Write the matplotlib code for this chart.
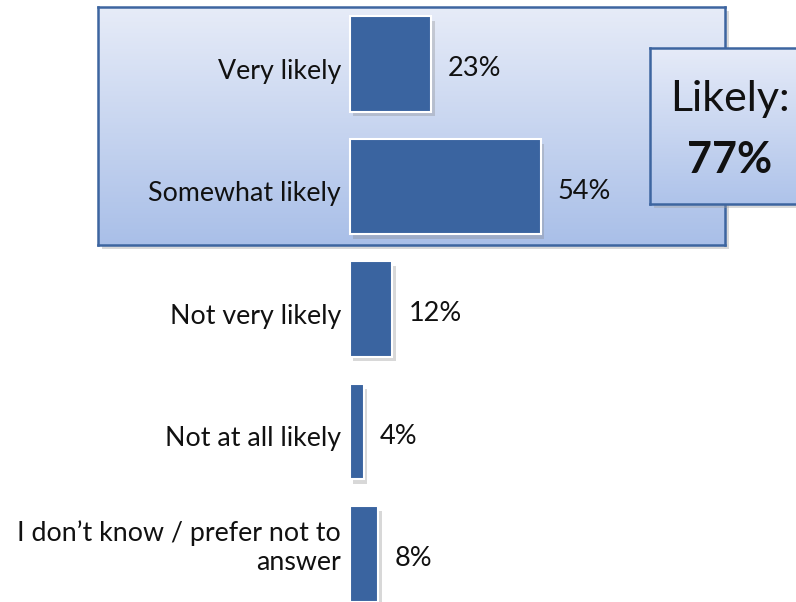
import numpy as np
import matplotlib
matplotlib.use("Agg")
import matplotlib.pyplot as plt
from matplotlib.colors import LinearSegmentedColormap

categories = ["Very likely", "Somewhat likely", "Not very likely", "Not at all likely",
              "I don\u2019t know / prefer not to\nanswer"]
values = [23, 54, 12, 4, 8]
value_labels = ["23%", "54%", "12%", "4%", "8%"]
summary_title = "Likely:"
summary_value = "77%"

W, H = 796, 602
plt.rcParams['font.family'] = ['Lato', 'DejaVu Sans']
fig = plt.figure(figsize=(W / 100, H / 100), dpi=100)

def fx(px):
    return px / W

def fy(py):
    return 1 - py / H

BAR_COLOR = "#3a64a0"
BOX_EDGE = "#3d65a0"

def gradient_box(x0, y0, x1, y1, top, bottom, z):
    sh = fig.add_axes([fx(x0 + 4), fy(y1 + 4), fx(x1 - x0), (y1 - y0) / H], zorder=z - 0.5)
    sh.set_facecolor("#a0a0a0")
    sh.patch.set_alpha(0.4)
    for s in sh.spines.values():
        s.set_visible(False)
    sh.set_xticks([]); sh.set_yticks([])
    ax = fig.add_axes([fx(x0), fy(y1), fx(x1 - x0), (y1 - y0) / H], zorder=z)
    cmap = LinearSegmentedColormap.from_list("g", [top, bottom])
    grad = np.linspace(0, 1, 256).reshape(-1, 1)
    ax.imshow(grad, aspect="auto", cmap=cmap, extent=[0, 1, 1, 0], origin="upper")
    ax.set_xlim(0, 1); ax.set_ylim(1, 0)
    ax.set_xticks([]); ax.set_yticks([])
    for s in ax.spines.values():
        s.set_color(BOX_EDGE)
        s.set_linewidth(1.8)
    return ax

# big grouping box
gradient_box(98, 7, 725, 245, "#e7ecf8", "#a9bfe8", 1)

# bar axes
x0px, scale = 350, 3.54
ax = fig.add_axes([0, 0, 1, 1], zorder=3)
ax.patch.set_alpha(0)
xmin = -x0px / scale
xmax = (W - x0px) / scale
ax.set_xlim(xmin, xmax)
ctr0, step = 64, 122.5
ax.set_ylim((H - ctr0) / step, -ctr0 / step)
ax.axis("off")

y = np.arange(len(values))
bh = 0.776
ax.barh(y + 0.04, values, height=bh, left=0.9, color="#808080", alpha=0.3, zorder=1)
ax.barh(y, values, height=bh, color=BAR_COLOR, edgecolor="white", linewidth=1.5, zorder=2)

for i, (v, lab, cat) in enumerate(zip(values, value_labels, categories)):
    ax.text(v + 4.5, i + 0.04, lab, ha="left", va="center", fontsize=19.5, color="#111111", zorder=4)
    off = -0.05 if "\n" in cat else 0.06
    ax.text(-2.6, i + off, cat, ha="right", va="center", fontsize=19.3, color="#111111",
            linespacing=1.2, zorder=4)

# summary box
sax = gradient_box(650, 48, 810, 204, "#e6ebf8", "#aec3ea", 5)
sax.text(0.5, 0.67, summary_title, transform=sax.transAxes, ha="center", va="center",
         fontsize=31, color="#111111")
sax.text(0.5, 0.28, summary_value, transform=sax.transAxes, ha="center", va="center",
         fontsize=31, fontweight="bold", color="#111111")

fig.savefig("out.png", dpi=100)
